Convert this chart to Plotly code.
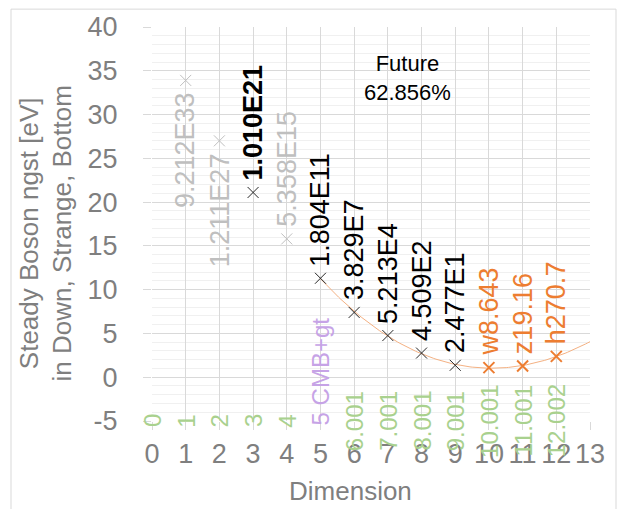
import numpy as np
import plotly.graph_objects as go

# === Data ===
grey_x = [1, 2, 4]
grey_y = [33.9, 27.0, 15.8]
grey_labels = ['9.212E33', '1.211E27', '5.358E15']
grey_pos = ['below', 'below', 'above']

peak_x = [3]
peak_y = [21.1]
peak_labels = ['1.010E21']

dark_x = [5, 6, 7, 8, 9]
dark_y = [11.3, 7.4, 4.76, 2.76, 1.36]
dark_labels = ['1.804E11', '3.829E7', '5.213E4', '4.509E2', '2.477E1']

future_x = [10, 11, 12]
future_y = [1.1, 1.28, 2.38]
future_labels = ['w8.643', 'z19.16', 'h270.7']

base_x = list(range(13))
base_y = [-5] * 13
base_labels = ['0', '1', '2', '3', '4', '5 CMB+gt', '6.001', '7.001',
               '8.001', '9.001', '10.001', '11.001', '12.002']

x_ticks = list(range(14))
y_ticks = list(range(-5, 41, 5))

FONT = 'Liberation Sans, Arial, sans-serif'
GREY_TXT = '#7f7f7f'
LIGHT = '#bfbfbf'
DARK = '#262626'
ORANGE = '#ed7d31'
GREEN = '#a9d18e'
PURPLE = '#c6a3e6'

fig = go.Figure()

# trendline (polynomial fit of dimensions 5..12, forecast forward 1)
fit_x = np.array(dark_x + future_x, dtype=float)
fit_y = np.array(dark_y + future_y, dtype=float)
coef = np.polyfit(fit_x, fit_y, 3)
tx = np.linspace(5, 13, 120)
fig.add_trace(go.Scatter(x=tx, y=np.polyval(coef, tx), mode='lines',
                         line=dict(color='#f4b183', width=1),
                         hoverinfo='skip', showlegend=False))

def markers(x, y, color, width):
    fig.add_trace(go.Scatter(
        x=x, y=y, mode='markers', showlegend=False,
        marker=dict(symbol='x-thin', size=11, color=color,
                    line=dict(color=color, width=width))))

markers(grey_x, grey_y, LIGHT, 1)
markers(peak_x, peak_y, DARK, 1)
markers(dark_x, dark_y, DARK, 1)
markers(future_x, future_y, ORANGE, 2)

annotations = []

def vlabel(x, y, text, color, pos='above', size=27, shift=10):
    annotations.append(dict(
        x=x, y=y, xref='x', yref='y', text=text, showarrow=False,
        textangle=-90, xanchor='center',
        yanchor={'above': 'bottom', 'below': 'top', 'middle': 'middle'}[pos],
        yshift={'above': shift, 'below': -shift, 'middle': 0}[pos],
        font=dict(family=FONT, size=size, color=color)))

for x, y, t, p in zip(grey_x, grey_y, grey_labels, grey_pos):
    vlabel(x, y, t, LIGHT, p)
for x, y, t in zip(peak_x, peak_y, peak_labels):
    vlabel(x, y, '<b>' + t + '</b>', '#000000')
for x, y, t in zip(dark_x, dark_y, dark_labels):
    vlabel(x, y, t, '#000000')
for x, y, t in zip(future_x, future_y, future_labels):
    vlabel(x, y, t, ORANGE)
for x, y, t in zip(base_x, base_y, base_labels):
    if 'CMB' in t:
        vlabel(x, y, t, PURPLE, 'above', size=24, shift=-6)
    else:
        vlabel(x, y, t, GREEN, 'middle', size=24)

# text box
annotations.append(dict(
    x=(407 - 152) / 438, y=(421 - 75) / 397, xref='paper', yref='paper',
    text='Future<br>62.856%', showarrow=False,
    xanchor='center', yanchor='middle',
    font=dict(family=FONT, size=22, color='#000000')))

# axis titles
annotations.append(dict(
    x=(46 - 152) / 438, y=(421 - 232) / 397, xref='paper', yref='paper',
    text='Steady Boson ngst [eV]<br>in Down, Strange, Bottom',
    textangle=-90, showarrow=False, xanchor='center', yanchor='middle',
    font=dict(family=FONT, size=26, color=GREY_TXT)))
annotations.append(dict(
    x=(350 - 152) / 438, y=(421 - 492) / 397, xref='paper', yref='paper',
    text='Dimension', showarrow=False, xanchor='center', yanchor='middle',
    font=dict(family=FONT, size=26, color=GREY_TXT)))

fig.update_layout(
    width=622, height=509,
    paper_bgcolor='white', plot_bgcolor='white',
    margin=dict(l=152, r=32, t=24, b=88),
    font=dict(family=FONT, color=GREY_TXT),
    annotations=annotations,
    shapes=[dict(type='rect', xref='paper', yref='paper',
                 x0=(11 - 152) / 438, x1=(616 - 152) / 438,
                 y0=-0.3, y1=(421 - 6) / 397,
                 line=dict(color='#d9d9d9', width=1), layer='below')],
)

fig.update_xaxes(
    range=[0, 13], tickvals=x_ticks, showgrid=True, gridcolor='#d9d9d9',
    zeroline=False, showline=False, ticks='outside', ticklen=8,
    tickcolor='#d9d9d9', tickfont=dict(size=27, color=GREY_TXT),
    ticklabelstandoff=1)

fig.update_yaxes(
    range=[-5, 40], tickvals=y_ticks, ticktext=[str(v) for v in y_ticks],
    showgrid=True, gridcolor='#d9d9d9',
    zeroline=False, showline=False, ticks='outside', ticklen=8,
    tickcolor='#d9d9d9', tickfont=dict(size=27, color=GREY_TXT),
    ticklabelstandoff=20,
    minor=dict(dtick=1, showgrid=True, gridcolor='#f0f0f0', ticks=''))

fig.write_html('out.html', config={'displayModeBar': False},
               post_script="document.body.style.margin='0';")
